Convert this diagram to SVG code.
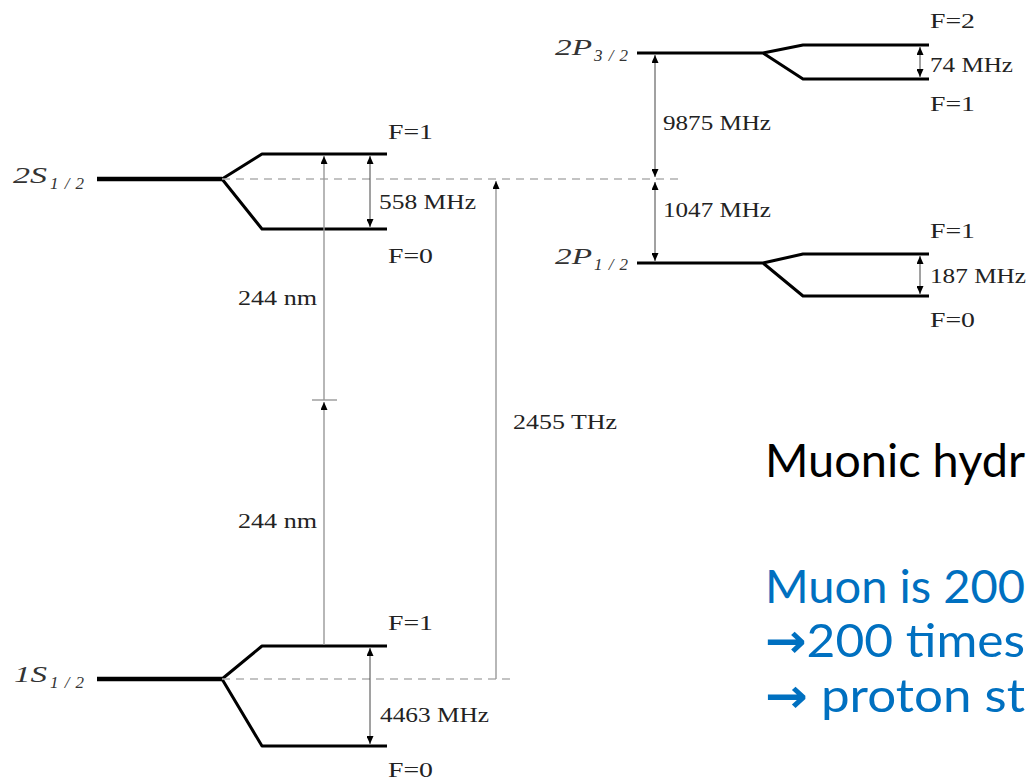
<svg xmlns="http://www.w3.org/2000/svg" width="1028" height="781" viewBox="0 0 1028 781">
<style>
.lvl{stroke:#000;stroke-width:3;fill:none;stroke-linejoin:round}
.main{stroke:#000;stroke-width:4.5;fill:none}
.dash{stroke:#b0b0b0;stroke-width:1.5;stroke-dasharray:8 6;fill:none}
.gap{stroke:#444;stroke-width:1;fill:none}
.trans{stroke:#999;stroke-width:1.4;fill:none}
.lbl{font-family:"Liberation Serif","DejaVu Serif",serif;font-size:20px;fill:#222}
.st{font-family:"Liberation Serif","DejaVu Serif",serif;font-style:italic;fill:#333}
.big{font-family:Lato,"Open Sans",sans-serif;font-size:47px}
.arr{font-family:"DejaVu Sans",sans-serif;font-weight:bold}
</style>
<defs>
<marker id="ah" markerUnits="userSpaceOnUse" markerWidth="8" markerHeight="7" refX="8" refY="3.5" orient="auto-start-reverse">
<path d="M0,0 L8,3.5 L0,7 z" fill="#000"/>
</marker>
</defs>

<g id="level-2S">
<path class="main" d="M97,179 H222"/>
<path class="lvl" d="M222,179 L262,154 H387 M222,179 L262,229 H387"/>
<text class="st"><tspan x="13" y="183" font-size="24" textLength="34" lengthAdjust="spacingAndGlyphs">2S</tspan><tspan x="50" y="189" font-size="17" textLength="34" lengthAdjust="spacing">1/2</tspan></text>
<text class="lbl" x="388" y="139" textLength="45" lengthAdjust="spacingAndGlyphs">F=1</text>
<text class="lbl" x="388" y="263" textLength="45" lengthAdjust="spacingAndGlyphs">F=0</text>
</g>

<g id="level-1S">
<path class="main" d="M97,679 H222"/>
<path class="lvl" d="M222,679 L262,646 H387 M222,679 L262,746 H387"/>
<text class="st"><tspan x="14" y="682" font-size="24" textLength="33" lengthAdjust="spacingAndGlyphs">1S</tspan><tspan x="50" y="688" font-size="17" textLength="34" lengthAdjust="spacing">1/2</tspan></text>
<text class="lbl" x="388" y="630" textLength="45" lengthAdjust="spacingAndGlyphs">F=1</text>
<text class="lbl" x="388" y="777" textLength="45" lengthAdjust="spacingAndGlyphs">F=0</text>
</g>

<g id="level-2P32">
<path class="lvl" d="M637,53 H763 L803,45 H929 M763,53 L803,79 H929"/>
<text class="st"><tspan x="555" y="55" font-size="24" textLength="37" lengthAdjust="spacingAndGlyphs">2P</tspan><tspan x="594" y="61" font-size="17" textLength="34" lengthAdjust="spacing">3/2</tspan></text>
<text class="lbl" x="930" y="28" textLength="45" lengthAdjust="spacingAndGlyphs">F=2</text>
<text class="lbl" x="930" y="111" textLength="45" lengthAdjust="spacingAndGlyphs">F=1</text>
</g>

<g id="level-2P12">
<path class="lvl" d="M637,263 H763 L803,254 H929 M763,263 L803,296 H929"/>
<text class="st"><tspan x="555" y="264" font-size="24" textLength="37" lengthAdjust="spacingAndGlyphs">2P</tspan><tspan x="594" y="270" font-size="17" textLength="34" lengthAdjust="spacing">1/2</tspan></text>
<text class="lbl" x="930" y="238" textLength="45" lengthAdjust="spacingAndGlyphs">F=1</text>
<text class="lbl" x="930" y="327" textLength="45" lengthAdjust="spacingAndGlyphs">F=0</text>
</g>

<g id="connectors">
<path class="dash" d="M222,179 H680"/>
<path class="dash" d="M222,679 H512"/>
<path class="trans" d="M324,645 V402" marker-end="url(#ah)"/>
<path class="trans" d="M324,400 V156" marker-end="url(#ah)"/>
<path class="trans" d="M312,400 H337"/>
<path class="trans" d="M496,679 V181" stroke-width="1.8" marker-end="url(#ah)"/>
<path class="gap" d="M370,156 V227" marker-start="url(#ah)" marker-end="url(#ah)"/>
<path class="gap" d="M370,648 V744" marker-start="url(#ah)" marker-end="url(#ah)"/>
<path class="gap" d="M920,47 V77" marker-start="url(#ah)" marker-end="url(#ah)"/>
<path class="gap" d="M920,256 V294" marker-start="url(#ah)" marker-end="url(#ah)"/>
<path class="gap" d="M655,55 V177" marker-start="url(#ah)" marker-end="url(#ah)"/>
<path class="gap" d="M655,182 V261" marker-start="url(#ah)" marker-end="url(#ah)"/>
</g>

<g id="labels">
<text class="lbl" x="379" y="209" textLength="97" lengthAdjust="spacingAndGlyphs">558 MHz</text>
<text class="lbl" x="380" y="722" textLength="109" lengthAdjust="spacingAndGlyphs">4463 MHz</text>
<text class="lbl" x="238" y="305" textLength="79" lengthAdjust="spacingAndGlyphs">244 nm</text>
<text class="lbl" x="238" y="528" textLength="79" lengthAdjust="spacingAndGlyphs">244 nm</text>
<text class="lbl" x="513" y="429" textLength="104" lengthAdjust="spacingAndGlyphs">2455 THz</text>
<text class="lbl" x="663" y="130" textLength="108" lengthAdjust="spacingAndGlyphs">9875 MHz</text>
<text class="lbl" x="663" y="217" textLength="108" lengthAdjust="spacingAndGlyphs">1047 MHz</text>
<text class="lbl" x="930" y="72" textLength="83" lengthAdjust="spacingAndGlyphs">74 MHz</text>
<text class="lbl" x="930" y="283" textLength="96" lengthAdjust="spacingAndGlyphs">187 MHz</text>
</g>

<g id="notes">
<text class="big" x="765" y="477" fill="#000" textLength="260" lengthAdjust="spacingAndGlyphs">Muonic hydr</text>
<text class="big" x="765" y="603" fill="#0070C0" textLength="260" lengthAdjust="spacingAndGlyphs">Muon is 200</text>
<text class="big" x="765" y="657" fill="#0070C0" textLength="260" lengthAdjust="spacingAndGlyphs"><tspan class="arr">→</tspan>200 times</text>
<text class="big" x="765" y="712" fill="#0070C0" textLength="260" lengthAdjust="spacingAndGlyphs"><tspan class="arr">→</tspan> proton st</text>
</g>
</svg>
